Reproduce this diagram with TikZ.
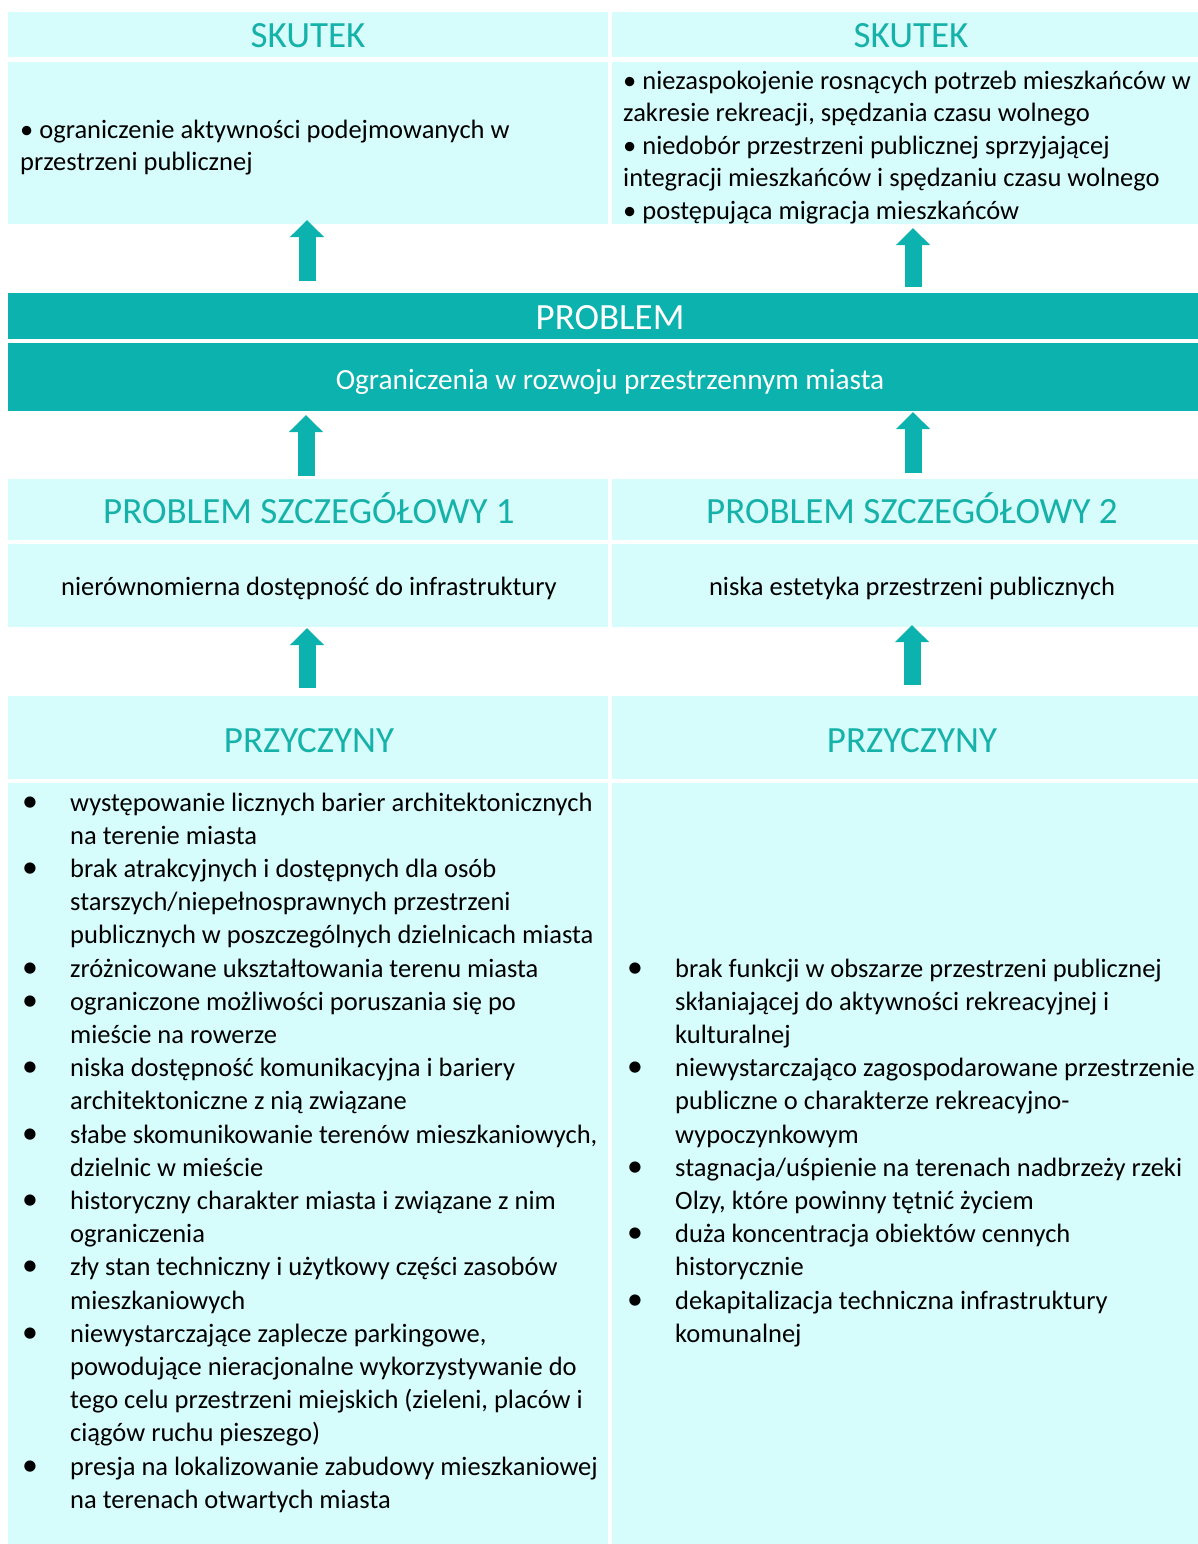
\documentclass[tikz,border=0pt]{standalone}
\usepackage{fontspec}
\setmainfont{Carlito}
\usetikzlibrary{arrows.meta}
\definecolor{lightc}{RGB}{214,252,252}
\definecolor{tealc}{RGB}{12,178,174}
\definecolor{headc}{RGB}{22,178,170}
\newcommand\bul{\scalebox{1.2}{\textbullet}}
\begin{document}
\begin{tikzpicture}[x=1pt,y=-1pt,
  box/.style={fill=lightc,anchor=north west,inner sep=0pt,outer sep=0pt},
  bar/.style={fill=tealc,anchor=north west,inner sep=0pt,outer sep=0pt},
  head/.style={anchor=base,inner sep=0pt,text=headc,font=\fontsize{37}{40}\selectfont},
  body/.style={anchor=base west,inner sep=0pt,font=\fontsize{26.5}{33.2}\selectfont},
  bigarrow/.style={draw=tealc,line width=17pt,-{Triangle[width=33pt,length=17pt]}}]
\useasboundingbox (0,0) rectangle (1198,1544);
\fill[white] (0,0) rectangle (1198,1544);
% boxes
\node[box,minimum width=600pt,minimum height=45pt] (sk1h) at (8,12) {};
\node[box,minimum width=600pt,minimum height=162pt] (sk1b) at (8,62) {};
\node[box,minimum width=586pt,minimum height=45pt] (sk2h) at (612,12) {};
\node[box,minimum width=586pt,minimum height=162pt] (sk2b) at (612,62) {};
\node[bar,minimum width=1190pt,minimum height=46pt] (prob) at (8,293) {};
\node[bar,minimum width=1190pt,minimum height=68pt] (probb) at (8,343) {};
\node[box,minimum width=600pt,minimum height=61pt] (ps1h) at (8,479) {};
\node[box,minimum width=600pt,minimum height=83pt] (ps1b) at (8,544) {};
\node[box,minimum width=586pt,minimum height=61pt] (ps2h) at (612,479) {};
\node[box,minimum width=586pt,minimum height=83pt] (ps2b) at (612,544) {};
\node[box,minimum width=600pt,minimum height=83pt] (pr1h) at (8,696) {};
\node[box,minimum width=600pt,minimum height=761pt] (pr1b) at (8,783) {};
\node[box,minimum width=586pt,minimum height=83pt] (pr2h) at (612,696) {};
\node[box,minimum width=586pt,minimum height=761pt] (pr2b) at (612,783) {};
% headings
\node[head] (t1) at (308,48) {SKUTEK};
\node[head] (t2) at (911,48) {SKUTEK};
\node[head,text=white] (t3) at (610,329) {PROBLEM};
\node[anchor=base,inner sep=0pt,text=white,font=\fontsize{29.3}{32}\selectfont] (t4) at (610,389) {Ograniczenia w rozwoju przestrzennym miasta};
\node[head] (t5) at (309,523) {PROBLEM SZCZEGÓŁOWY 1};
\node[head] (t6) at (912,523) {PROBLEM SZCZEGÓŁOWY 2};
\node[anchor=base,inner sep=0pt,font=\fontsize{26.5}{30}\selectfont] (t7) at (309,595) {nierównomierna dostępność do infrastruktury};
\node[anchor=base,inner sep=0pt,font=\fontsize{26.5}{30}\selectfont] (t8) at (912,595) {niska estetyka przestrzeni publicznych};
\node[head] (t9) at (309,752) {PRZYCZYNY};
\node[head] (t10) at (912,752) {PRZYCZYNY};
% skutek texts
\node[body,font=\fontsize{26.5}{31.5}\selectfont] (s1) at (20,139) {\begin{tabular}[t]{@{}l@{}}
\textbullet{} ograniczenie aktywności podejmowanych w\\
przestrzeni publicznej
\end{tabular}};
\node[body,font=\fontsize{26.5}{32.5}\selectfont] (s2) at (623,89.5) {\begin{tabular}[t]{@{}l@{}}
\textbullet{} niezaspokojenie rosnących potrzeb mieszkańców w\\
zakresie rekreacji, spędzania czasu wolnego\\
\textbullet{} niedobór przestrzeni publicznej sprzyjającej\\
integracji mieszkańców i spędzaniu czasu wolnego\\
\textbullet{} postępująca migracja mieszkańców
\end{tabular}};
% przyczyny lists
\node[body] (l1) at (22,811) {\begin{tabular}[t]{@{}p{48pt}@{}l@{}}
\bul & występowanie licznych barier architektonicznych\\
 & na terenie miasta\\
\bul & brak atrakcyjnych i dostępnych dla osób\\
 & starszych/niepełnosprawnych przestrzeni\\
 & publicznych w poszczególnych dzielnicach miasta\\
\bul & zróżnicowane ukształtowania terenu miasta\\
\bul & ograniczone możliwości poruszania się po\\
 & mieście na rowerze\\
\bul & niska dostępność komunikacyjna i bariery\\
 & architektoniczne z nią związane\\
\bul & słabe skomunikowanie terenów mieszkaniowych,\\
 & dzielnic w mieście\\
\bul & historyczny charakter miasta i związane z nim\\
 & ograniczenia\\
\bul & zły stan techniczny i użytkowy części zasobów\\
 & mieszkaniowych\\
\bul & niewystarczające zaplecze parkingowe,\\
 & powodujące nieracjonalne wykorzystywanie do\\
 & tego celu przestrzeni miejskich (zieleni, placów i\\
 & ciągów ruchu pieszego)\\
\bul & presja na lokalizowanie zabudowy mieszkaniowej\\
 & na terenach otwartych miasta
\end{tabular}};
\node[body] (l2) at (627,977) {\begin{tabular}[t]{@{}p{48pt}@{}l@{}}
\bul & brak funkcji w obszarze przestrzeni publicznej\\
 & skłaniającej do aktywności rekreacyjnej i\\
 & kulturalnej\\
\bul & niewystarczająco zagospodarowane przestrzenie\\
 & publiczne o charakterze rekreacyjno-\\
 & wypoczynkowym\\
\bul & stagnacja/uśpienie na terenach nadbrzeży rzeki\\
 & Olzy, które powinny tętnić życiem\\
\bul & duża koncentracja obiektów cennych\\
 & historycznie\\
\bul & dekapitalizacja techniczna infrastruktury\\
 & komunalnej
\end{tabular}};
% arrows
\coordinate (a1s) at (307,281); \coordinate (a1e) at (307,220);
\coordinate (a2s) at (913,287); \coordinate (a2e) at (913,228);
\coordinate (a3s) at (306,476); \coordinate (a3e) at (306,415);
\coordinate (a4s) at (913,473); \coordinate (a4e) at (913,412);
\coordinate (a5s) at (307,688); \coordinate (a5e) at (307,628);
\coordinate (a6s) at (912,685); \coordinate (a6e) at (912,625);
\draw[bigarrow] (a1s) -- (a1e);
\draw[bigarrow] (a2s) -- (a2e);
\draw[bigarrow] (a3s) -- (a3e);
\draw[bigarrow] (a4s) -- (a4e);
\draw[bigarrow] (a5s) -- (a5e);
\draw[bigarrow] (a6s) -- (a6e);
\end{tikzpicture}
\end{document}
